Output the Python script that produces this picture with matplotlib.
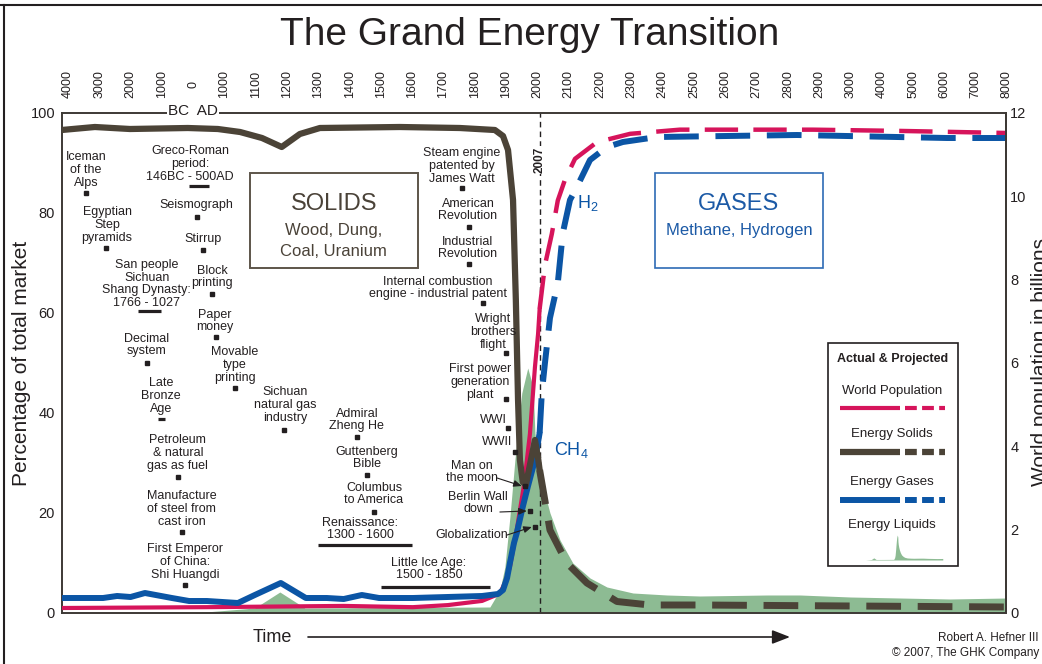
import numpy as np
import matplotlib
matplotlib.use('Agg')
import matplotlib.pyplot as plt
from matplotlib.patches import Rectangle
from matplotlib.lines import Line2D
from matplotlib.transforms import blended_transform_factory

plt.rcParams['font.family'] = ['Liberation Sans', 'DejaVu Sans']
plt.rcParams['lines.scale_dashes'] = False
plt.rcParams['mathtext.fontset'] = 'custom'
plt.rcParams['mathtext.rm'] = 'Liberation Sans'
plt.rcParams['mathtext.it'] = 'Liberation Sans'

# ---- data -------------------------------------------------------------
# top axis: equally spaced labels, uneven years (BC as negative)
tick_years = [-4000, -3000, -2000, -1000, 0] + list(range(1000, 3001, 100)) + [4000, 5000, 6000, 7000, 8000]
tick_labels = [str(abs(y)) for y in tick_years]

# energy solids, % of total market
solids_year = [-4200, -3140, -2020, -170, 790, 1050, 1120, 1183, 1241, 1305, 1560, 1752, 1864, 1890,
               1906, 1922, 1931, 1938, 1944, 1953, 1963, 1976, 1992, 2002, 2007,
               2040, 2094, 2158, 2254, 2359, 2519, 8000]
solids_pct = [96.6, 97.2, 96.8, 97.0, 96.8, 96.2, 95.0, 93.2, 95.8, 97.0, 97.2, 97.0, 96.6, 95.4,
              92.6, 82.6, 62.6, 42.6, 30.6, 26.2, 25.6, 29.6, 34.6, 31.0, 28.6,
              16.6, 10.0, 6.0, 2.3, 1.6, 1.6, 1.2]

# energy gases, % of total market
gases_year = [-4200, -2880, -2430, -2000, -1540, -680, -130, 440, 1043, 1097, 1180, 1260, 1327, 1381,
              1439, 1494, 1602, 1823, 1874, 1890, 1903, 1912, 1925, 1934, 1953, 1969, 1992, 2007,
              2014, 2024, 2040, 2065, 2081, 2104, 2126, 2168, 2222, 2273, 2382, 2829, 2988, 4486, 6083, 8000]
gases_pct = [3.0, 3.0, 3.4, 3.2, 4.0, 3.0, 2.4, 2.4, 2.0, 3.6, 6.0, 3.0, 3.0, 2.8,
             3.6, 3.0, 3.0, 3.4, 3.8, 4.6, 7.0, 10.0, 14.0, 16.0, 21.2, 25.2, 30.6, 36.0,
             44.0, 50.0, 59.0, 66.0, 76.0, 82.6, 85.2, 90.6, 93.2, 94.2, 95.2, 95.6, 95.4, 95.2, 95.0, 95.0]

# energy liquids, % of total market
liquids_year = [-4200, 0, 1097, 1177, 1257, 1848, 1880, 1896, 1912, 1928, 1938, 1950, 1969, 1986, 1992,
                2002, 2018, 2040, 2072, 2113, 2168, 2222, 2305, 2414, 2519, 2733, 2839, 3000, 4581, 6180, 8000]
liquids_pct = [0, 0, 1.0, 4.2, 1.0, 1.2, 4.6, 9.2, 19.2, 30.6, 37.0, 44.0, 49.0, 45.2, 36.0,
               30.6, 25.2, 20.0, 14.6, 10.0, 7.0, 5.2, 4.0, 3.6, 3.4, 3.6, 3.6, 3.2, 3.0, 2.8, 3.0]

# world population, billions
pop_year = [-4200, 440, 1381, 1602, 1714, 1823, 1852, 1880, 1896, 1912, 1934, 1957, 1976, 1992, 2002, 2007,
            2024, 2046, 2065, 2088, 2120, 2190, 2296, 2455, 2880, 4581, 8000]
pop_bn = [0.12, 0.14, 0.17, 0.14, 0.19, 0.29, 0.38, 0.47, 0.72, 1.1, 2.0, 3.07, 4.3, 5.9, 6.7, 7.3,
          8.35, 9.1, 9.9, 10.4, 10.9, 11.3, 11.5, 11.6, 11.6, 11.57, 11.52]

# (label, text year, text %, dot year, dot %)
events = [
    ('Iceman\nof the\nAlps', -3425, 88.6, -3425, 84.0),
    ('Egyptian\nStep\npyramids', -2750, 77.6, -2790, 73.0),
    ('Seismograph', 90, 81.6, 120, 79.2),
    ('Stirrup', 310, 74.8, 310, 72.6),
    ('Block\nprinting', 600, 67.2, 600, 63.8),
    ('Paper\nmoney', 700, 58.4, 730, 55.2),
    ('Decimal\nsystem', -1480, 53.6, -1480, 50.0),
    ('Movable\ntype\nprinting', 1034, 49.6, 1034, 45.0),
    ('Sichuan\nnatural gas\nindustry', 1193, 41.6, 1190, 36.6),
    ('Admiral\nZheng He', 1423, 38.6, 1423, 35.2),
    ('Guttenberg\nBible', 1455, 31.0, 1455, 27.6),
    ('Columbus\nto America', 1478, 23.8, 1478, 20.2),
    ('Petroleum\n& natural\ngas as fuel', -490, 32.0, -490, 27.2),
    ('Manufacture\nof steel from\ncast iron', -360, 20.8, -360, 16.2),
    ('First Emperor\nof China:\nShi Huangdi', -260, 10.2, -260, 5.6),
    ('Steam engine\npatented by\nJames Watt', 1759, 89.4, 1759, 85.0),
    ('American\nRevolution', 1778, 80.6, 1781, 77.2),
    ('Industrial\nRevolution', 1778, 73.0, 1781, 69.8),
    ('Internal combustion\nengine - industrial patent', 1682, 65.0, 1826, 62.0),
    ('Wright\nbrothers\nflight', 1858, 56.2, 1899, 52.0),
    ('First power\ngeneration\nplant', 1816, 46.2, 1899, 42.8),
    ('WWI', 1858, 38.6, 1906, 37.0),
    ('WWII', 1871, 34.2, 1928, 32.2),
]

# (label, text year, text %, start year, end year, bar %)
periods = [
    ('Greco-Roman\nperiod:\n146BC - 500AD', -100, 89.8, -146, 500, 85.4),
    ('San people\nSichuan\nShang Dynasty:\n1766 - 1027', -1480, 65.8, -1766, -1027, 60.4),
    ('Late\nBronze\nAge', -1030, 43.4, -1125, -900, 38.8),
    ('Renaissance:\n1300 - 1600', 1433, 16.8, 1300, 1600, 13.6),
    ('Little Ice Age:\n1500 - 1850', 1653, 8.8, 1500, 1850, 5.2),
]

# (label, text year, text %, tail year, tail %, dot year, dot %)
pointers = [
    ('Man on\nthe moon', 1791, 28.2, 1871, 27.0, 1960, 25.4),
    ('Berlin Wall\ndown', 1810, 22.0, 1880, 20.2, 1976, 20.4),
    ('Globalization', 1791, 15.6, 1903, 15.6, 1992, 17.2),
]

# ---- styles -----------------------------------------------------------
RED = '#d6145b'
BLUE = '#0b55a5'
BROWN = '#4b4337'
GREEN = '#8dbb93'
INK = '#231f20'


def pos(years):
    return np.interp(years, [-5000] + tick_years, [-1] + list(range(len(tick_years))))


def split(years, vals, at=2007):
    y = np.asarray(years, float)
    v = np.asarray(vals, float)
    return (pos(y[y <= at]), v[y <= at]), (pos(y[y >= at]), v[y >= at])


fig = plt.figure(figsize=(10.42, 6.64), dpi=100)
ax = fig.add_axes([62 / 1042, 51 / 664, 944 / 1042, 500 / 664])
ax2 = ax.twinx()
for side in ('top', 'left', 'bottom'):
    ax2.spines[side].set_visible(False)

# liquids
ax.fill_between(pos(liquids_year), 0, liquids_pct, color=GREEN, lw=0, zorder=1)

# 2007 marker
x07 = pos(2007)
ax.plot([x07, x07], [0, 100], color=INK, lw=1, ls=(0, (4, 3)), zorder=2)
ax.text(x07, 90.6, '2007', rotation=90, ha='center', va='center', fontsize=8.5, fontweight='bold',
        color=INK, zorder=6, bbox=dict(fc='white', ec='none', pad=0.6))

# population (right scale), drawn in the main axes to keep the layering
act, proj = split(pop_year, pop_bn)
ax.plot(*act, color=RED, lw=3, solid_capstyle='round', transform=ax2.transData, zorder=3)
ax.plot(*proj, color=RED, lw=3.2, ls=(0, (24, 11)), dash_capstyle='butt', transform=ax2.transData, zorder=3)

act, proj = split(gases_year, gases_pct)
ax.plot(*act, color=BLUE, lw=4.3, solid_capstyle='round', solid_joinstyle='round', zorder=3.5)
ax.plot(*proj, color=BLUE, lw=4.3, ls=(0, (25, 12)), dash_capstyle='butt', zorder=3.5)

act, proj = split(solids_year, solids_pct)
ax.plot(*act, color=BROWN, lw=4.5, solid_capstyle='round', solid_joinstyle='round', zorder=4)
ax.plot(*proj, color=BROWN, lw=5, ls=(0, (25, 12)), dash_capstyle='butt', zorder=4)

# labels on the curves
ax.text(pos(2161), 82, r'H$_2$', color=BLUE, fontsize=13, ha='center', va='center')
ax.text(pos(2107), 32.6, r'CH$_4$', color=BLUE, fontsize=13, ha='center', va='center')

# annotations
tkw = dict(ha='center', va='center', fontsize=9, color=INK, linespacing=1.08, zorder=5)
for lab, ty, tp, dy, dp in events:
    ax.text(pos(ty), tp, lab, **tkw)
    ax.plot(pos(dy), dp, 's', color=INK, ms=2.2, zorder=5)
for lab, ty, tp, y0, y1, bp in periods:
    ax.text(pos(ty), tp, lab, **tkw)
    ax.plot([pos(y0), pos(y1)], [bp, bp], color=INK, lw=2.3, solid_capstyle='butt', zorder=5)
for lab, ty, tp, ay, ap, dy, dp in pointers:
    ax.text(pos(ty), tp, lab, **tkw)
    ax.annotate('', xy=(pos(dy) - 0.1, dp), xytext=(pos(ay), ap),
                arrowprops=dict(arrowstyle='-|>,head_length=0.6,head_width=0.25', color=INK, lw=0.8,
                                mutation_scale=8, shrinkA=0, shrinkB=0), zorder=5)
    ax.plot(pos(dy), dp, 's', color=INK, ms=2.2, zorder=5)

# SOLIDS / GASES boxes (axes fraction)
ax.add_patch(Rectangle((0.199, 0.69), 0.178, 0.19, transform=ax.transAxes, fc='white', ec='#5d554a',
                       lw=1.4, zorder=5))
ax.text(0.288, 0.818, 'SOLIDS', transform=ax.transAxes, ha='center', va='center', fontsize=17,
        color='#4a4238', zorder=6)
ax.text(0.288, 0.766, 'Wood, Dung,', transform=ax.transAxes, ha='center', va='center',
        fontsize=12, color='#4a4238', zorder=6)
ax.text(0.288, 0.724, 'Coal, Uranium', transform=ax.transAxes, ha='center', va='center',
        fontsize=12, color='#4a4238', zorder=6)
ax.add_patch(Rectangle((0.628, 0.69), 0.178, 0.19, transform=ax.transAxes, fc='white', ec='#2d6bb5',
                       lw=1.2, zorder=5))
ax.text(0.717, 0.818, 'GASES', transform=ax.transAxes, ha='center', va='center', fontsize=17,
        color='#1c5aa6', zorder=6)
ax.text(0.717, 0.766, 'Methane, Hydrogen', transform=ax.transAxes, ha='center', va='center',
        fontsize=12, color='#1c5aa6', zorder=6)

# legend box
ax.add_patch(Rectangle((0.8114, 0.094), 0.1376, 0.446, transform=ax.transAxes, fc='white', ec=INK,
                       lw=1.2, zorder=5))
lx = 0.8795
ax.text(lx, 0.508, 'Actual & Projected', transform=ax.transAxes, ha='center', va='center', fontsize=9,
        fontweight='bold', color=INK, zorder=6)
legend_rows = [('World Population', RED, 0.444, 0.41, 3), ('Energy Solids', BROWN, 0.358, 0.322, 4.5),
               ('Energy Gases', BLUE, 0.262, 0.226, 4.3)]
for name, col, ty, ly, lw in legend_rows:
    ax.text(lx, ty, name, transform=ax.transAxes, ha='center', va='center', fontsize=9.5, color=INK, zorder=6)
    ax.plot([0.824, 0.8877], [ly, ly], transform=ax.transAxes, color=col, lw=lw, solid_capstyle='butt', zorder=6)
    ax.plot([0.893, 0.9354], [ly, ly], transform=ax.transAxes, color=col, lw=lw, ls=(0, (8.5, 3.8)),
            dash_capstyle='butt', zorder=6)
ax.text(lx, 0.176, 'Energy Liquids', transform=ax.transAxes, ha='center', va='center', fontsize=9.5,
        color=INK, zorder=6)
lp = pos(liquids_year)
gx = 0.838 + (lp - lp.min()) / (lp.max() - lp.min()) * 0.095
gy = 0.106 + np.asarray(liquids_pct) / max(liquids_pct) * 0.05
ax.fill_between(gx, 0.106, gy, transform=ax.transAxes, color=GREEN, lw=0, zorder=6)

# BC / AD on the top frame
ax.text(pos(0), 100.4, 'BC  AD', ha='center', va='center', fontsize=11, color=INK, zorder=6,
        bbox=dict(fc='white', ec='none', pad=1.0), clip_on=False)

# top year labels
tr = blended_transform_factory(ax.transData, ax.transAxes)
for yr, lab in zip(tick_years, tick_labels):
    ax.text(pos(yr), 1.058, lab, transform=tr, rotation=90, ha='center', va='center', fontsize=9, color=INK)

# axes
ax.set_xlim(-0.19, 29.97)
ax.set_ylim(0, 100)
ax2.set_ylim(0, 12)
ax.set_xticks([])
ax.set_yticks(range(0, 101, 20))
ax2.set_yticks(range(0, 13, 2))
ax.tick_params(axis='y', length=0, pad=5, labelsize=10.5, labelcolor=INK)
ax2.tick_params(axis='y', length=0, pad=3, labelsize=10.5, labelcolor=INK)
for a in (ax, ax2):
    for s in a.spines.values():
        s.set_color('#3d3935')
        s.set_linewidth(1.4)

fig.text(22 / 1042, 1 - 363 / 664, 'Percentage of total market', rotation=90, ha='center', va='center',
         fontsize=15, color=INK)
# cut by the right edge, as in the source image
fig.text(1041 / 1042, 1 - 362 / 664, 'World population in billions', rotation=90, ha='center', va='center',
         fontsize=15, color=INK)

# title, time arrow, credits, frame
fig.text(530 / 1042, 1 - 35 / 664, 'The Grand Energy Transition', ha='center', va='center', fontsize=28,
         color=INK)
fig.text(272 / 1042, 1 - 638 / 664, 'Time', ha='center', va='center', fontsize=13, color=INK)
ax.annotate('', xy=(790 / 1042, 27 / 664), xytext=(308 / 1042, 27 / 664), xycoords='figure fraction',
            textcoords='figure fraction',
            arrowprops=dict(arrowstyle='-|>,head_length=0.9,head_width=0.35', color=INK, lw=1.2,
                            mutation_scale=12, shrinkA=0, shrinkB=0))
fig.text(1039 / 1042, 1 - 638 / 664, 'Robert A. Hefner III', ha='right', va='center', fontsize=8.5, color=INK)
fig.text(1039 / 1042, 1 - 653 / 664, '\u00a9 2007, The GHK Company', ha='right', va='center', fontsize=8.5,
         color=INK)
fig.add_artist(Line2D([0, 1], [1 - 5 / 664] * 2, transform=fig.transFigure, color=INK, lw=1.5))
fig.add_artist(Line2D([4 / 1042] * 2, [0, 1 - 5 / 664], transform=fig.transFigure, color=INK, lw=1.5))

fig.savefig('out.png', dpi=100)
